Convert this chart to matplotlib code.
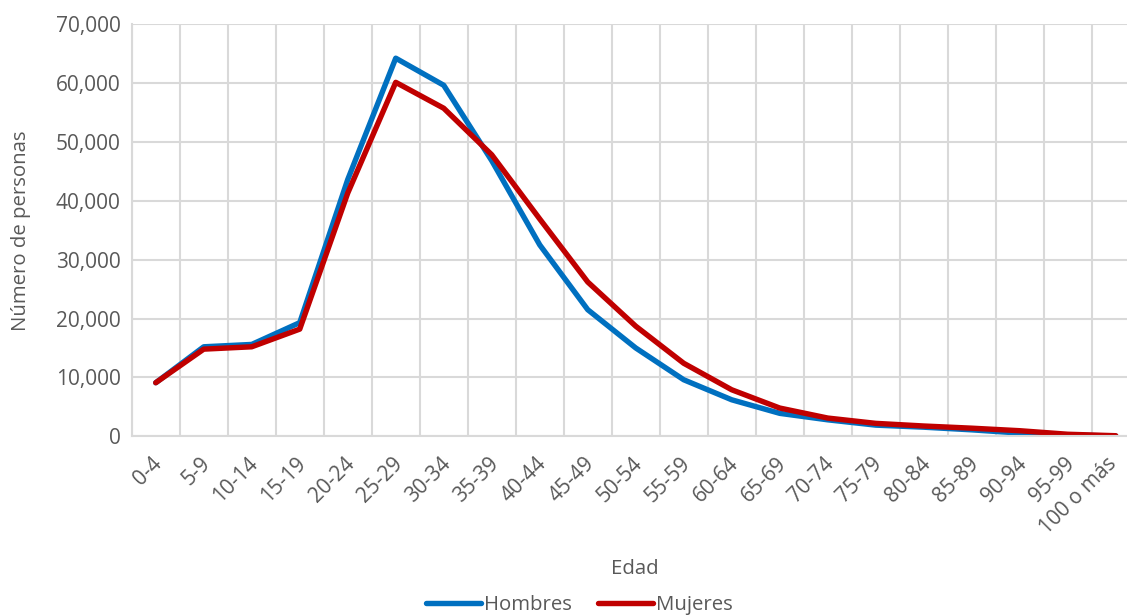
import matplotlib
matplotlib.use("Agg")
import matplotlib.pyplot as plt
import matplotlib.ticker as mticker
import matplotlib.transforms as mtrans
import numpy as np

plt.rcParams["font.family"] = ["Open Sans", "DejaVu Sans"]

edades = ["0-4", "5-9", "10-14", "15-19", "20-24", "25-29", "30-34", "35-39",
          "40-44", "45-49", "50-54", "55-59", "60-64", "65-69", "70-74",
          "75-79", "80-84", "85-89", "90-94", "95-99", "100 o más"]
hombres = [9100, 15200, 15600, 19300, 43600, 64200, 59600, 46800, 32500,
           21500, 15000, 9600, 6200, 3900, 2800, 1900, 1550, 1100, 550,
           220, 50]
mujeres = [9100, 14800, 15200, 18200, 41300, 60100, 55700, 47800, 36900,
           26200, 18700, 12400, 7900, 4800, 3100, 2200, 1750, 1380, 950,
           350, 100]

GRAY = "#595959"
GRID = "#D9D9D9"
FS = 15

fig = plt.figure(figsize=(11.27, 6.16), dpi=100)
# axes runs past the right border, as in the cropped original
ax = fig.add_axes([0.1169, 0.2917, 0.8944, 0.6693])

x = np.arange(len(edades))
ax.plot(x, hombres, color="#0070C0", lw=3.9, solid_capstyle="round",
        solid_joinstyle="round", label="Hombres")
ax.plot(x, mujeres, color="#C00000", lw=3.9, solid_capstyle="round",
        solid_joinstyle="round", label="Mujeres")

ax.set_xlim(-0.5, len(edades) - 0.5)
ax.set_ylim(0, 70000)
ax.set_yticks(np.arange(0, 70001, 10000))
ax.yaxis.set_major_formatter(mticker.StrMethodFormatter("{x:,.0f}"))
ax.set_xticks(x)
ax.set_xticklabels(edades, rotation=45, ha="right", va="top",
                   rotation_mode="anchor")
ax.set_xticks(np.arange(-0.5, len(edades), 1), minor=True)

ax.grid(axis="y", which="major", color=GRID, lw=1.5)
ax.grid(axis="x", which="minor", color=GRID, lw=1.5)
ax.set_axisbelow(True)
for s in ["top", "right"]:
    ax.spines[s].set_visible(False)
for s in ["left", "bottom"]:
    ax.spines[s].set_color(GRID)
    ax.spines[s].set_linewidth(1.5)

ax.tick_params(axis="both", which="both", length=0, labelsize=FS,
               labelcolor=GRAY)
ax.tick_params(axis="x", pad=12)
ax.tick_params(axis="y", pad=8)

# nudge rotated labels a touch left (last one a bit more so it stays in frame)
# done after tick_params, which resets the label transforms
labs = ax.get_xticklabels()
for i, lab in enumerate(labs):
    dx = -10 if i == len(labs) - 1 else -4
    shift = mtrans.ScaledTranslation(dx / 100, 0, fig.dpi_scale_trans)
    lab.set_transform(lab.get_transform() + shift)

fig.text(0.019, 0.625, "Número de personas", rotation=90, ha="center",
         va="center", fontsize=14.7, color=GRAY)
fig.text(0.563, 0.077, "Edad", ha="center", va="center", fontsize=14.7,
         color=GRAY)

leg = fig.legend(loc="center", bbox_to_anchor=(0.514, 0.018), ncol=2,
                 frameon=False, fontsize=14.7, handlelength=2.7,
                 handletextpad=0.15, columnspacing=1.3)
for t in leg.get_texts():
    t.set_color(GRAY)

fig.savefig("out.png", dpi=100)
